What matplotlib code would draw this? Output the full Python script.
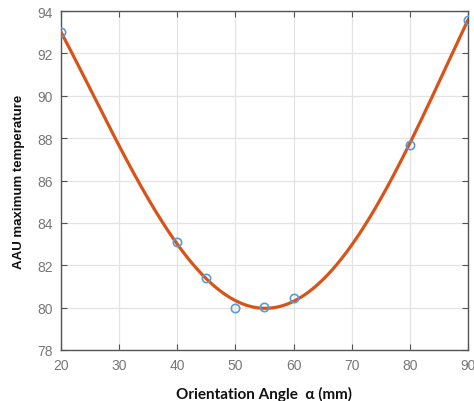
import numpy as np
import matplotlib
matplotlib.use("Agg")
import matplotlib.pyplot as plt

plt.rcParams["font.family"] = ["Liberation Sans", "DejaVu Sans"]

angles = [20, 40, 45, 50, 55, 60, 80, 90]
temps = [93.0, 83.1, 81.4, 80.0, 80.05, 80.45, 87.7, 93.6]
xticks = [20, 30, 40, 50, 60, 70, 80, 90]
yticks = [78, 80, 82, 84, 86, 88, 90, 92, 94]

fig = plt.figure(figsize=(4.74, 4.02), dpi=100)
ax = fig.add_axes([0.1287, 0.1269, 0.8586, 0.8431])

coef = np.polyfit(angles, temps, 4)
xs = np.linspace(min(angles), max(angles), 300)
ax.plot(xs, np.polyval(coef, xs), color="#D95319", lw=2.3, zorder=3)
ax.plot(angles, temps, "o", mfc="none", mec="#5A9BD3", ms=6, mew=1.2, zorder=4)

ax.set_xlim(20, 90)
ax.set_ylim(78, 94)
ax.set_xticks(xticks)
ax.set_yticks(yticks)
ax.grid(True, color="#E3E3E3", lw=0.9)
ax.set_axisbelow(True)
ax.tick_params(direction="in", length=4, colors="#555555", labelsize=10,
               top=True, right=True, labelcolor="#777777", pad=6)
for s in ax.spines.values():
    s.set_color("#555555")
    s.set_linewidth(1.0)

ax.set_xlabel("Orientation Angle  \u03b1 (mm)", fontsize=11, fontweight="bold",
              family="Lato", labelpad=10, color="#111111")
ax.set_ylabel("AAU maximum temperature", fontsize=9.5, fontweight="bold",
              labelpad=9, color="#111111")

fig.savefig("out.png", dpi=100)
